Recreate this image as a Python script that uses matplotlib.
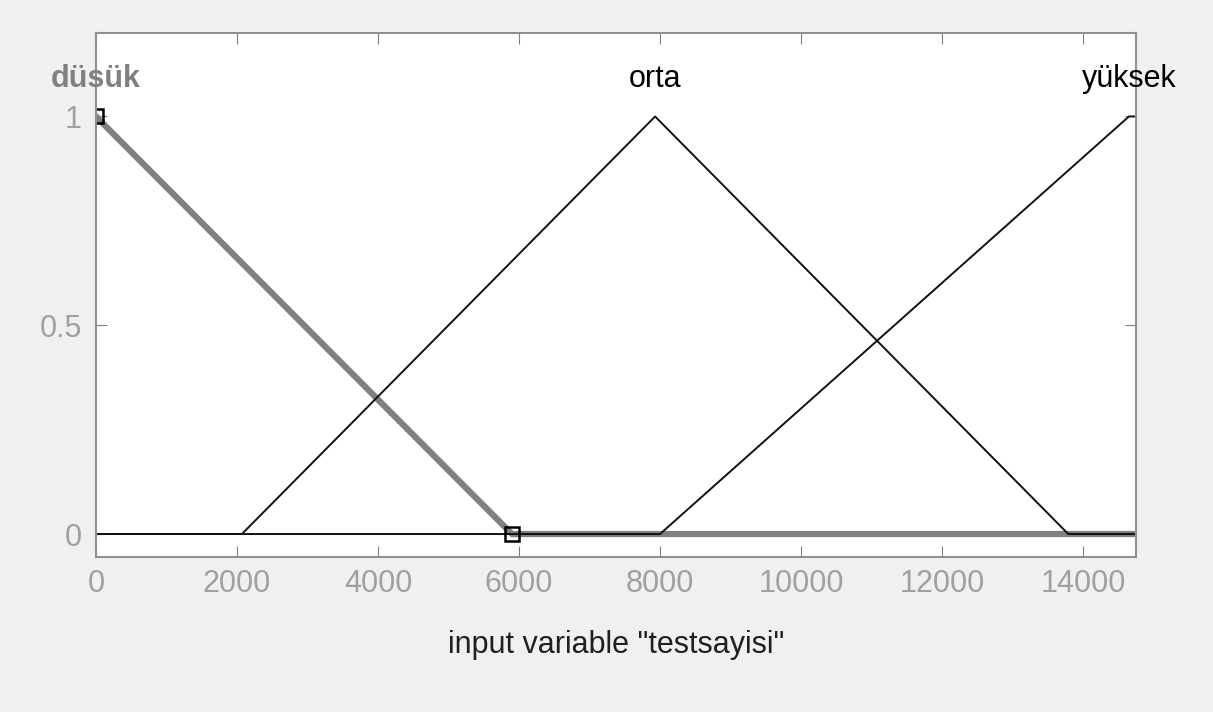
import matplotlib
matplotlib.use('Agg')
import matplotlib.pyplot as plt

plt.rcParams['font.family'] = ['Liberation Sans Narrow', 'Liberation Sans', 'DejaVu Sans']

# membership functions of input "testsayisi"
mf_names = ['düsük', 'orta', 'yüksek']
dusuk_x = [0, 5900, 14750]
dusuk_y = [1, 0, 0]
orta_x = [0, 2070, 7930, 13790, 14750]
orta_y = [0, 0, 1, 0, 0]
yuksek_x = [0, 8000, 14650, 14750]
yuksek_y = [0, 0, 1, 1]
label_x = [0, 7930, 14650]
handle_x = [0, 5900]
handle_y = [1, 0]
xticks = [0, 2000, 4000, 6000, 8000, 10000, 12000, 14000]
yticks = [0, 0.5, 1]

fig = plt.figure(figsize=(12.13, 7.12), dpi=100, facecolor='#f0f0f0')
ax = fig.add_axes([0.0791, 0.2177, 0.8574, 0.736])
ax.set_facecolor('white')

ax.plot(dusuk_x, dusuk_y, color='#808080', lw=4.5)
ax.plot(orta_x, orta_y, color='#111111', lw=1.4)
ax.plot(yuksek_x, yuksek_y, color='#111111', lw=1.4)
ax.plot(handle_x, handle_y, ls='none', marker='s', ms=10, mfc='none', mec='black', mew=1.8)

ax.set_xlim(0, 14750)
ax.set_ylim(-0.055, 1.2)
ax.set_xticks(xticks)
ax.set_yticks(yticks)
ax.set_yticklabels(['0', '0.5', '1'])
ax.tick_params(direction='in', top=True, right=True, length=8, color='#808080',
               labelsize=22, labelcolor='#a0a0a0', pad=10)
ax.tick_params(axis='x', pad=9)
for s in ax.spines.values():
    s.set_color('#909090')
    s.set_linewidth(1.5)

label_colors = ['#808080', 'black', 'black']
for name, lx, c in zip(mf_names, label_x, label_colors):
    ax.text(lx, 1.09, name, ha='center', va='center', fontsize=22, color=c,
            fontweight='bold' if c != 'black' else 'normal', clip_on=False)

ax.set_xlabel('input variable "testsayisi"', fontsize=22, color='#202020', labelpad=22)

fig.savefig('out.png', dpi=100, facecolor=fig.get_facecolor())
